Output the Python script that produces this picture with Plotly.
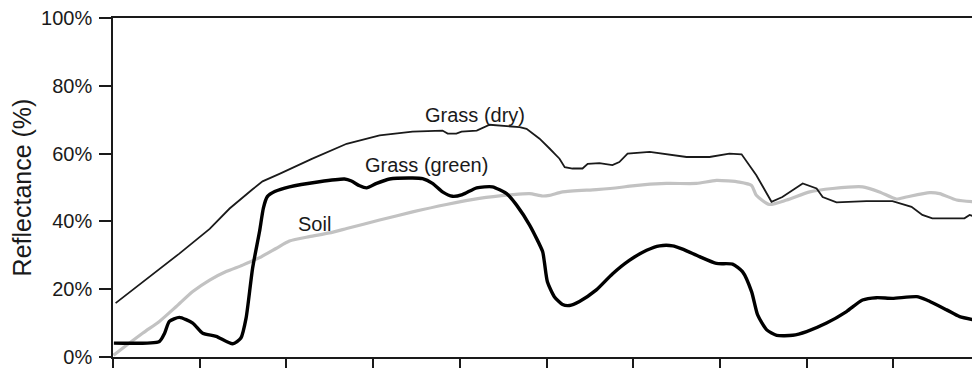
import plotly.graph_objects as go

# Wavelength (micrometres) and reflectance (%)
dry_wl = [0.406, 0.484, 0.553, 0.623, 0.669, 0.722, 0.745, 0.784, 0.860, 0.939,
          1.015, 1.091, 1.160, 1.172, 1.192, 1.204, 1.239, 1.269, 1.292, 1.338, 1.354,
          1.384, 1.407, 1.430, 1.442, 1.460, 1.483, 1.495, 1.522, 1.552, 1.568, 1.587,
          1.638, 1.677, 1.723, 1.776, 1.822, 1.850, 1.884, 1.919, 1.944, 1.991, 2.023,
          2.037, 2.069, 2.138, 2.198, 2.242, 2.267, 2.290, 2.364, 2.376, 2.385]
dry_refl = [15.9, 23.5, 30.5, 37.8, 43.8, 49.5, 51.8, 54.0, 58.5, 62.9,
            65.4, 66.5, 66.8, 65.9, 65.9, 66.5, 66.8, 68.5, 68.3, 67.8, 67.3,
            64.4, 61.5, 58.5, 56.0, 55.6, 55.6, 57.0, 57.2, 56.6, 57.5, 60.0,
            60.5, 59.8, 59.0, 59.0, 60.0, 59.8, 53.6, 45.8, 47.2, 51.2, 49.7,
            47.2, 45.6, 46.0, 46.0, 44.3, 41.9, 40.9, 40.9, 41.9, 41.5]

green_wl = [0.402, 0.507, 0.519, 0.530, 0.553, 0.584, 0.607, 0.638, 0.676, 0.695,
            0.707, 0.722, 0.738, 0.747, 0.756, 0.773, 0.807, 0.876, 0.934, 0.950, 0.969,
            0.985, 1.008, 1.038, 1.091, 1.114, 1.137, 1.160, 1.183, 1.206, 1.239, 1.275,
            1.308, 1.331, 1.361, 1.391, 1.395, 1.402, 1.418, 1.437, 1.453, 1.476, 1.515,
            1.552, 1.591, 1.631, 1.661, 1.691, 1.714, 1.753, 1.792, 1.829, 1.852, 1.873,
            1.887, 1.908, 1.931, 1.968, 2.000, 2.046, 2.092, 2.129, 2.161, 2.198, 2.254,
            2.277, 2.323, 2.353, 2.385]
green_refl = [4.1, 4.6, 7.0, 10.5, 11.7, 10.0, 7.0, 6.1, 3.9, 5.6,
              11.5, 26.2, 37.0, 44.0, 47.3, 48.8, 50.2, 51.7, 52.5, 51.9, 50.5,
              49.9, 51.2, 52.5, 52.8, 52.6, 51.2, 48.7, 47.4, 47.9, 49.9, 50.2,
              48.2, 44.8, 38.9, 31.1, 28.1, 22.2, 17.8, 15.5, 15.2, 16.4, 19.8,
              24.5, 28.5, 31.5, 32.8, 32.8, 31.8, 29.6, 27.6, 27.4, 25.2, 19.3,
              12.4, 8.0, 6.4, 6.4, 7.5, 10.0, 13.4, 16.8, 17.5, 17.3, 17.8,
              16.8, 13.9, 11.9, 11.0]

soil_wl = [0.401, 0.408, 0.469, 0.507, 0.546, 0.584, 0.623, 0.661, 0.699, 0.738, 0.776,
           0.807, 0.853, 0.899, 0.939, 1.015, 1.091, 1.169, 1.245, 1.322, 1.361, 1.391,
           1.407, 1.437, 1.515, 1.568, 1.598, 1.677, 1.746, 1.792, 1.845, 1.873, 1.884,
           1.914, 1.954, 2.007, 2.060, 2.129, 2.168, 2.207, 2.230, 2.284, 2.307, 2.346,
           2.385]
soil_refl = [0.5, 1.2, 7.1, 10.5, 14.9, 19.3, 22.7, 25.2, 27.1, 29.3, 32.0,
             34.2, 35.5, 36.6, 37.9, 40.4, 42.8, 45.0, 46.8, 47.9, 48.2, 47.5,
             47.7, 48.7, 49.4, 50.0, 50.5, 51.2, 51.2, 52.1, 51.6, 50.6, 47.7,
             45.0, 46.3, 48.7, 49.7, 50.2, 48.7, 46.6, 47.2, 48.5, 48.2, 46.3,
             45.8]

y_ticks = [0, 20, 40, 60, 80, 100]
y_tick_text = ["0%", "20%", "40%", "60%", "80%", "100%"]
x_ticks = [0.4, 0.6, 0.8, 1.0, 1.2, 1.4, 1.6, 1.8, 2.0, 2.2]

labels = ["Grass (dry)", "Grass (green)", "Soil"]
label_x = [1.236, 1.124, 0.864]
label_y = [71.5, 56.5, 39.1]

FONT = "Liberation Sans, Arial, Helvetica, sans-serif"
INK = "#1a1a1a"

fig = go.Figure()
fig.add_trace(go.Scatter(x=soil_wl, y=soil_refl, mode="lines",
                         line=dict(color="#c2c2c2", width=3.2, shape="spline", smoothing=0.6),
                         name="Soil", showlegend=False))
fig.add_trace(go.Scatter(x=dry_wl, y=dry_refl, mode="lines",
                         line=dict(color=INK, width=1.8, shape="linear"),
                         name="Grass (dry)", showlegend=False))
fig.add_trace(go.Scatter(x=green_wl, y=green_refl, mode="lines",
                         line=dict(color="#000000", width=3.4, shape="spline", smoothing=0.6),
                         name="Grass (green)", showlegend=False))

for t, xv, yv in zip(labels, label_x, label_y):
    fig.add_annotation(x=xv, y=yv, text=t, showarrow=False,
                       font=dict(family=FONT, size=20, color=INK),
                       xanchor="center", yanchor="middle")

fig.update_layout(
    width=972, height=368,
    margin=dict(l=113, r=0, t=18, b=8),
    paper_bgcolor="white", plot_bgcolor="white",
    font=dict(family=FONT, color=INK, size=20),
    showlegend=False,
)
fig.update_xaxes(range=[0.4, 2.3815], tickvals=x_ticks, showticklabels=False,
                 ticks="outside", ticklen=10, tickwidth=1.5, tickcolor=INK,
                 showline=True, linecolor=INK, linewidth=1.5, mirror=True,
                 showgrid=False, zeroline=False)
fig.update_yaxes(range=[0, 100], tickmode="array", tickvals=y_ticks, ticktext=y_tick_text,
                 ticks="outside", ticklen=12, tickwidth=1.5, tickcolor=INK,
                 tickfont=dict(family=FONT, size=20, color=INK),
                 ticklabeloverflow="allow", ticklabelstandoff=3,
                 showline=True, linecolor=INK, linewidth=1.5,
                 showgrid=False, zeroline=False,
                 title=dict(text="Reflectance (%)", standoff=2,
                            font=dict(family=FONT, size=25, color=INK)))

fig.write_html("out.html")
